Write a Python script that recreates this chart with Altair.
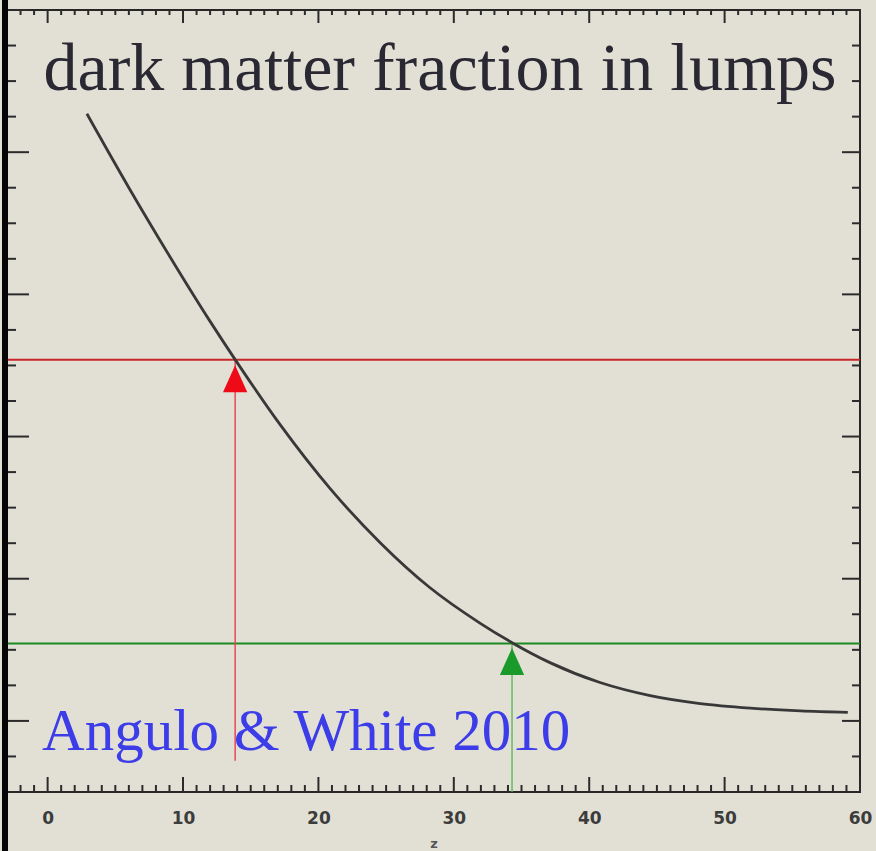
import altair as alt
import pandas as pd

# Mass fraction in collapsed lumps versus redshift (arbitrary linear units)
z_curve = [2.9, 6.0, 9.0, 12.0, 14.0, 17.2, 20.9, 24.6, 28.2, 31.9, 34.4, 37.1, 40.8, 44.5, 48.2, 51.9, 55.6, 59.1]
f_curve = [4.27, 3.75, 3.27, 2.81, 2.52, 2.08, 1.63, 1.25, 0.94, 0.69, 0.545, 0.41, 0.27, 0.178, 0.122, 0.09, 0.07, 0.06]

# Marker redshifts and levels
red_z, red_f, red_f_low = 13.85, 2.54, -0.28
green_z, green_f, green_f_low = 34.3, 0.545, -0.5

# Axis tick positions
x_major = [0, 10, 20, 30, 40, 50, 60]
x_minor = [i for i in range(-2, 60) if i % 10 != 0]
y_major = [0, 1, 2, 3, 4, 5]
y_minor = [q / 4 for q in range(-1, 20) if q % 4 != 0]

TITLE = "dark matter fraction in lumps"
CREDIT = "Angulo & White 2010"

W, H = 853, 782
BG = "#e2e0d5"
INK = "#2b2b2b"

xs = alt.Scale(domain=[-3, 60], nice=False, zero=False)
ys = alt.Scale(domain=[-0.5, 5], nice=False, zero=False)

x_axis = alt.Axis(
    values=x_major, orient="bottom", tickSize=0, domain=False, grid=False,
    labelFont="DejaVu Sans", labelFontWeight="bold", labelFontSize=17,
    labelColor="#3c3c3c", labelPadding=18, labelFlush=False,
    title="z", titleFont="DejaVu Sans", titleFontSize=13, titleFontWeight="bold",
    titleColor="#555555", titlePadding=11,
)


def X(field="z"):
    return alt.X(f"{field}:Q", scale=xs, axis=x_axis)


def Y(field="v"):
    return alt.Y(f"{field}:Q", scale=ys, axis=None)


curve_df = pd.DataFrame({"z": z_curve, "v": f_curve})

curve = alt.Chart(curve_df).mark_line(
    color="#383838", strokeWidth=2.8, interpolate="monotone"
).encode(x=X(), y=Y())

# Tick marks drawn inward on all four sides
def xticks(vals, length, top):
    df = pd.DataFrame({"z": vals})
    y0, y1 = (0, length) if top else (H, H - length)
    return alt.Chart(df).mark_rule(color=INK, strokeWidth=2).encode(
        x=X(), y=alt.value(y0), y2=alt.value(y1)
    )


def yticks(vals, length, right):
    df = pd.DataFrame({"v": vals})
    x0, x1 = (W, W - length) if right else (0, length)
    return alt.Chart(df).mark_rule(color=INK, strokeWidth=2).encode(
        y=Y(), x=alt.value(x0), x2=alt.value(x1)
    )


ticks = [
    xticks(x_minor, 7, False), xticks(x_major, 15, False),
    xticks(x_minor, 5, True), xticks(x_major, 13, True),
    yticks(y_minor, 9, False), yticks(y_major, 22, False),
    yticks(y_minor, 8, True), yticks(y_major, 18, True),
]

# Red and green markers: level line, vertical arrow
red_h = alt.Chart(pd.DataFrame({"v": [red_f]})).mark_rule(
    color="#c8262a", strokeWidth=2
).encode(y=Y())
red_v = alt.Chart(pd.DataFrame({"z": [red_z], "v": [red_f], "v2": [red_f_low]})).mark_rule(
    color="#e8404c", strokeWidth=1.4
).encode(x=X(), y=Y(), y2="v2:Q")
red_tip = alt.Chart(pd.DataFrame({"z": [red_z], "v": [red_f]})).mark_point(
    shape="M0,-1L-0.9,1L0.9,1Z", size=729, filled=True, opacity=1,
    color="#ee0a16", yOffset=19,
).encode(x=X(), y=Y())

green_h = alt.Chart(pd.DataFrame({"v": [green_f]})).mark_rule(
    color="#1c8a22", strokeWidth=2
).encode(y=Y())
green_v = alt.Chart(pd.DataFrame({"z": [green_z], "v": [green_f], "v2": [green_f_low]})).mark_rule(
    color="#5cb85c", strokeWidth=1.4
).encode(x=X(), y=Y(), y2="v2:Q")
green_tip = alt.Chart(pd.DataFrame({"z": [green_z], "v": [green_f]})).mark_point(
    shape="M0,-1L-0.9,1L0.9,1Z", size=729, filled=True, opacity=1,
    color="#1a9a2a", yOffset=18,
).encode(x=X(), y=Y())

# Heading and credit drawn inside the frame
title = alt.Chart(pd.DataFrame({"z": [28.98], "v": [4.437], "t": [TITLE]})).mark_text(
    font="Liberation Serif", fontSize=68, color="#2a2833", align="center",
    baseline="alphabetic",
).encode(x=X(), y=Y(), text="t:N")

credit = alt.Chart(pd.DataFrame({"z": [-0.41], "v": [-0.205], "t": [CREDIT]})).mark_text(
    font="Liberation Serif", fontSize=59, color="#3c3ce8", align="left",
    baseline="alphabetic",
).encode(x=X(), y=Y(), text="t:N")

# Heavy left edge of the frame
left_bar = alt.Chart(pd.DataFrame({"v": [0]})).mark_rule(
    color="#050505", strokeWidth=6
).encode(x=alt.value(-2), y=alt.value(-10), y2=alt.value(H + 59))

chart = alt.layer(
    red_h, green_h, red_v, green_v, curve, red_tip, green_tip,
    *ticks, title, credit, left_bar,
).properties(
    width=W, height=H,
    autosize=alt.AutoSizeParams(type="none"),
    padding={"left": 7, "top": 10, "right": 16, "bottom": 59},
    background=BG,
).configure_view(
    fill=BG, stroke="#262626", strokeWidth=2
)

chart.save("out.html", embed_options={"renderer": "svg", "actions": False})
